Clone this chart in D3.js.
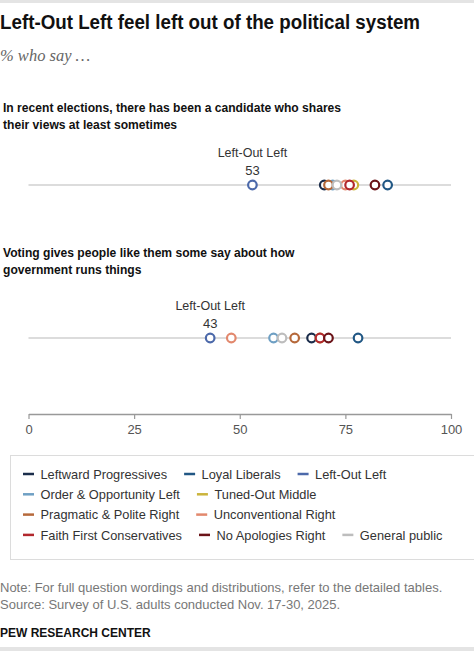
<!DOCTYPE html>
<html>
<head>
<meta charset="utf-8">
<script src="https://cdn.jsdelivr.net/npm/d3@7"></script>
<style>
  body { margin: 0; background: #fff; }
  svg { display: block; font-family: "Liberation Sans", Arial, sans-serif; }
</style>
</head>
<body>
<svg id="chart" width="474" height="651"></svg>
<script>
const groups = ["Leftward Progressives", "Loyal Liberals", "Left-Out Left",
  "Order & Opportunity Left", "Tuned-Out Middle", "Pragmatic & Polite Right",
  "Unconventional Right", "Faith First Conservatives", "No Apologies Right", "General public"];
const colors = ["#1b2d4b", "#215784", "#4c69aa", "#6fa0c4", "#cbb43c",
  "#b6693b", "#e2886d", "#b2282d", "#6b1318", "#bdbdbd"];
const questions = [
  ["In recent elections, there has been a candidate who shares", "their views at least sometimes"],
  ["Voting gives people like them some say about how", "government runs things"]
];
const candidateValues = [70, 85, 53, 72, 77, 71, 75, 76, 82, 73];
const votingValues = [67, 78, 43, 58, 69, 63, 48, 69, 71, 60];
const ticks = [0, 25, 50, 75, 100];
const legendRows = [[0, 1, 2], [3, 4], [5, 6], [7, 8, 9]];
const highlight = 2; // Left-Out Left gets the label

const svg = d3.select("#chart");
const x = d3.scaleLinear().domain([0, 100]).range([28.5, 451]);

// grey bands top and bottom
svg.append("rect").attr("x", 0).attr("y", 0).attr("width", 474).attr("height", 3).attr("fill", "#e4e4e4");
svg.append("rect").attr("x", 0).attr("y", 647).attr("width", 474).attr("height", 4).attr("fill", "#e4e4e4");

svg.append("text").attr("x", 0).attr("y", 29)
  .attr("font-size", 20).attr("font-weight", "bold").attr("fill", "#111")
  .attr("textLength", 420).attr("lengthAdjust", "spacingAndGlyphs")
  .text("Left-Out Left feel left out of the political system");

svg.append("text").attr("x", 0).attr("y", 61)
  .attr("font-family", "'Liberation Serif', Georgia, serif")
  .attr("font-style", "italic").attr("font-size", 16.5).attr("fill", "#666")
  .text("% who say \u2026");

const rows = [
  { q: questions[0], values: candidateValues, top: 112, dotY: 185 },
  { q: questions[1], values: votingValues, top: 257, dotY: 338 }
];

rows.forEach(row => {
  const g = svg.append("g");
  g.selectAll("text.q").data(row.q).join("text")
    .attr("class", "q")
    .attr("x", 3).attr("y", (d, i) => row.top + i * 16.5)
    .attr("font-size", 12.1).attr("font-weight", "bold").attr("fill", "#111")
    .text(d => d);

  g.append("line")
    .attr("x1", x(0)).attr("x2", x(100))
    .attr("y1", row.dotY).attr("y2", row.dotY)
    .attr("stroke", "#dcdcdc").attr("stroke-width", 2);

  g.selectAll("circle").data(row.values).join("circle")
    .attr("cx", d => x(d)).attr("cy", row.dotY).attr("r", 4.3)
    .attr("fill", "#fff")
    .attr("stroke", (d, i) => colors[i]).attr("stroke-width", 2.2);

  const v = row.values[highlight];
  g.append("text").attr("x", x(v)).attr("y", row.dotY - 10)
    .attr("text-anchor", "middle").attr("font-size", 13).attr("fill", "#333")
    .text(v);
  g.append("text").attr("x", x(v)).attr("y", row.dotY - 28)
    .attr("text-anchor", "middle").attr("font-size", 12.5).attr("fill", "#333")
    .text(groups[highlight]);
});

// axis
const axis = d3.axisBottom(x).tickValues(ticks).tickSize(5).tickSizeOuter(0);
const ag = svg.append("g").attr("transform", "translate(0,414)").call(axis);
ag.select(".domain").attr("stroke", "#999").attr("stroke-width", 1.5);
ag.selectAll(".tick line").attr("stroke", "#999").attr("stroke-width", 1.2);
ag.selectAll(".tick text").attr("font-size", 13).attr("fill", "#555")
  .attr("font-family", "'Liberation Sans', Arial, sans-serif").attr("dy", "0.9em");

// legend
svg.append("rect").attr("x", 10.5).attr("y", 455.5).attr("width", 480).attr("height", 104)
  .attr("fill", "none").attr("stroke", "#dcdcdc");
legendRows.forEach((idxs, r) => {
  let cx = 23;
  const y = 474 + r * 20.3;
  idxs.forEach(i => {
    const item = svg.append("g").attr("transform", `translate(${cx},${y})`);
    item.append("line").attr("x1", 0).attr("x2", 11).attr("y1", 0).attr("y2", 0)
      .attr("stroke", colors[i]).attr("stroke-width", 2.5);
    const t = item.append("text").attr("x", 17.5).attr("y", 4.6)
      .attr("font-size", 12.8).attr("fill", "#333").text(groups[i]);
    cx += 17.5 + t.node().getComputedTextLength() + 17;
  });
});

// notes
const notes = ["Note: For full question wordings and distributions, refer to the detailed tables.",
  "Source: Survey of U.S. adults conducted Nov. 17-30, 2025."];
svg.selectAll("text.note").data(notes).join("text").attr("class", "note")
  .attr("x", 0).attr("y", (d, i) => 592 + i * 16.5)
  .attr("font-size", 13).attr("fill", "#777").text(d => d);
svg.append("text").attr("x", 0).attr("y", 637)
  .attr("font-size", 12).attr("font-weight", "bold").attr("fill", "#111")
  .text("PEW RESEARCH CENTER");
</script>
</body>
</html>
